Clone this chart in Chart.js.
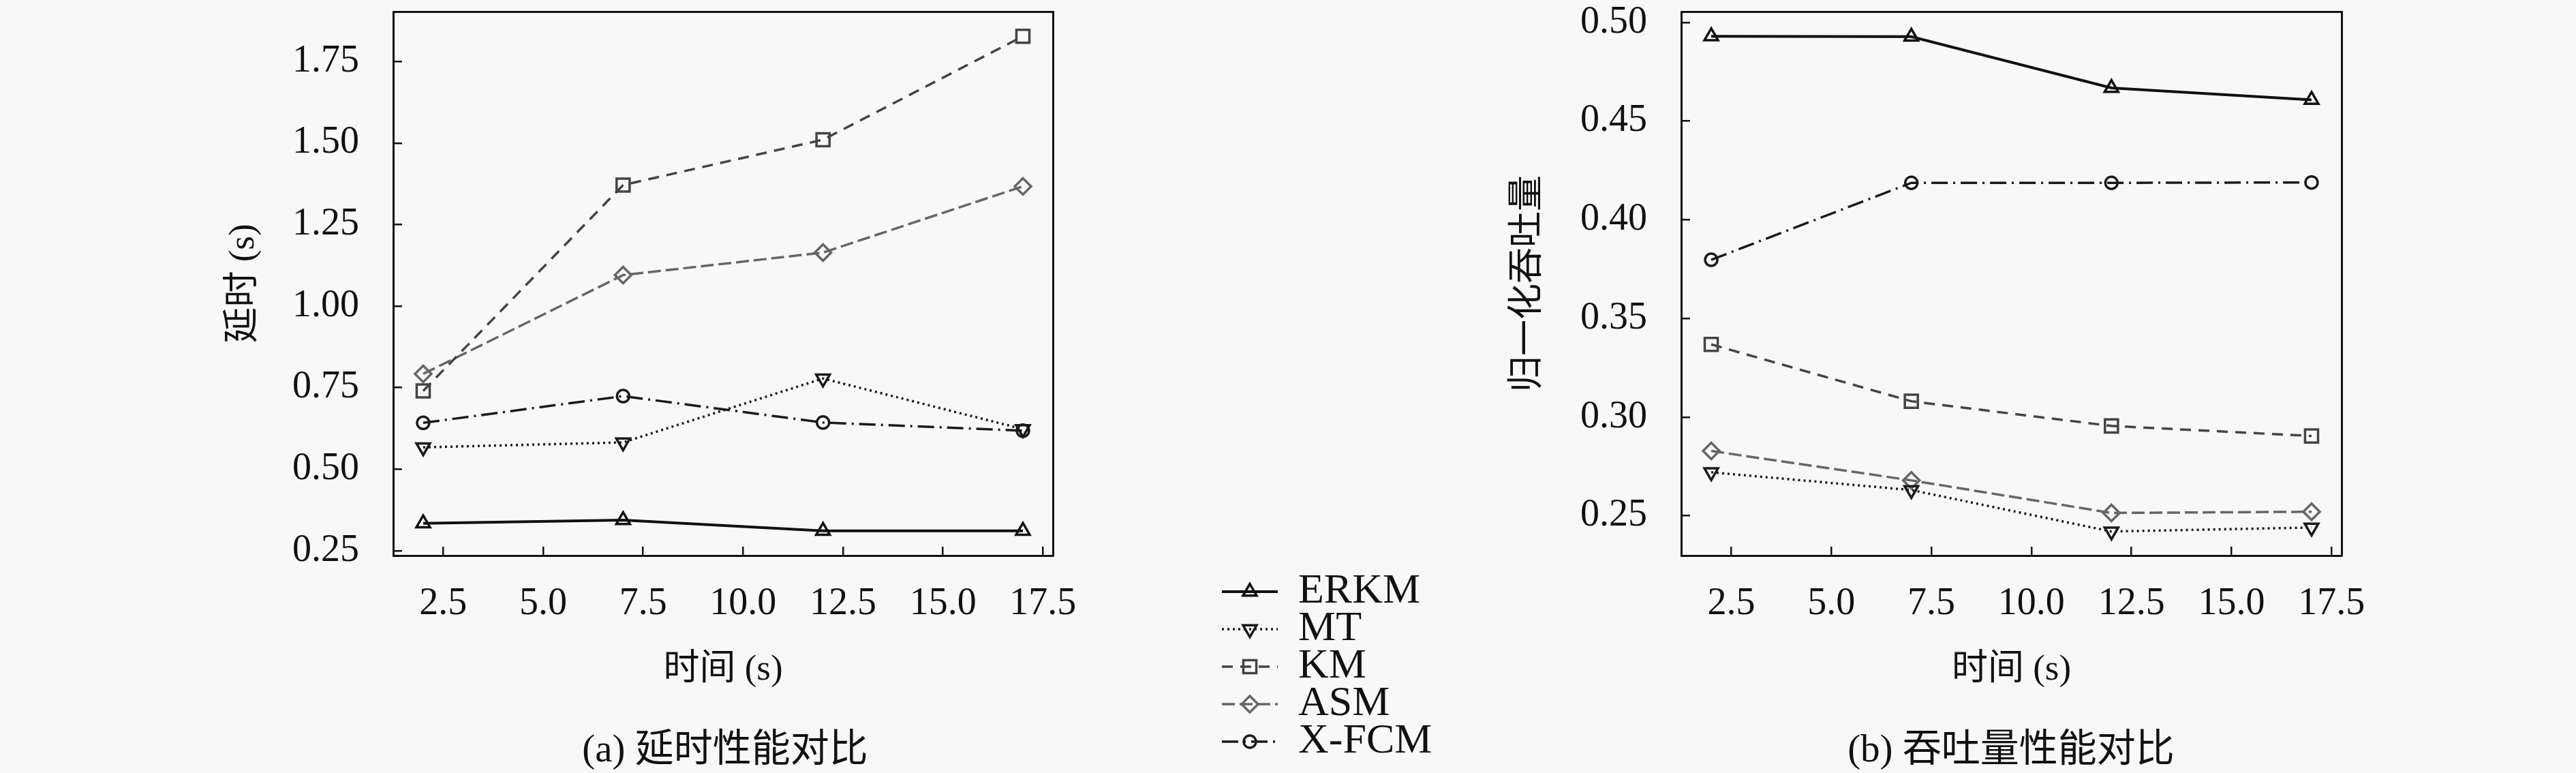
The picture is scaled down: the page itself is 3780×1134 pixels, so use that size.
<!DOCTYPE html>
<html>
<head>
<meta charset="utf-8">
<script src="https://cdn.jsdelivr.net/npm/chart.js@4.4.1/dist/chart.umd.min.js"></script>
<style>
  html, body { margin: 0; padding: 0; background: #f8f8f8; }
  #page { position: relative; width: 3780px; height: 1134px; overflow: hidden; }
  .box { position: absolute; top: 0; height: 1134px; }
  .cap { position: absolute; font: 57px 'Liberation Serif', 'Noto Sans CJK SC'; color: #111;
         white-space: nowrap; transform: translate(-50%, -50%); }
</style>
</head>
<body>
<div id="page">
  <div class="box" style="left:0;width:2150px"><canvas id="left" width="2150" height="1134"></canvas></div>
  <div class="box" style="left:2150px;width:1630px"><canvas id="right" width="1630" height="1134"></canvas></div>
  <div class="cap" style="left:1064px;top:1092px">(a) 延时性能对比</div>
  <div class="cap" style="left:2951px;top:1092px">(b) 吞吐量性能对比</div>
</div>
<script>
/* x values (time, s) */
const times = [2, 7, 12, 17];
const names = ["ERKM", "MT", "KM", "ASM", "X-FCM"];

/* (a) latency, s */
const latERKM = [0.334, 0.344, 0.311, 0.311];
const latMT   = [0.567, 0.582, 0.778, 0.623];
const latKM   = [0.740, 1.371, 1.510, 1.827];
const latASM  = [0.792, 1.095, 1.164, 1.367];
const latXFCM = [0.642, 0.724, 0.643, 0.618];

/* (b) normalised throughput */
const thrERKM = [0.4930, 0.4928, 0.4668, 0.4608];
const thrMT   = [0.2720, 0.2630, 0.2420, 0.2440];
const thrKM   = [0.3368, 0.3080, 0.2955, 0.2904];
const thrASM  = [0.2828, 0.2679, 0.2514, 0.2520];
const thrXFCM = [0.3797, 0.4187, 0.4187, 0.4189];

/* line / marker look per series */
const looks = [
  { color: "#111",    width: 4,   dash: [],             point: "triangle", rot: 0,   r: 11.5 },
  { color: "#1a1a1a", width: 3.5, dash: [3, 5],         point: "triangle", rot: 180, r: 11.5 },
  { color: "#444",    width: 3.5, dash: [16, 11],       point: "rect",     rot: 0,   r: 13.5 },
  { color: "#666",    width: 3.5, dash: [19, 7],        point: "rectRot",  rot: 0,   r: 12 },
  { color: "#1a1a1a", width: 3.5, dash: [24, 8, 3, 8],  point: "circle",   rot: 0,   r: 9 }
];

Chart.defaults.font.family = "'Liberation Serif', 'Noto Sans CJK SC'";
Chart.defaults.color = "#111";

function makeDatasets(series) {
  return series.map((vals, i) => {
    const lk = looks[i];
    return {
      label: names[i],
      data: times.map((t, j) => ({ x: t, y: vals[j] })),
      xAxisID: "x", yAxisID: "y",
      borderColor: lk.color, borderWidth: lk.width, borderDash: lk.dash,
      tension: 0, fill: false,
      pointStyle: lk.point, pointRotation: lk.rot, pointRadius: lk.r, pointHoverRadius: lk.r,
      pointBorderWidth: 3.5, pointBorderColor: lk.color,
      pointBackgroundColor: "rgba(0,0,0,0)"
    };
  });
}

/* legend with line + marker samples, drawn between the panels */
const LEG = { x0: 1793, x1: 1875, text: 1905, top: 868, row: 55 };
const sideLegend = {
  id: "sideLegend",
  afterDraw(chart) {
    const ctx = chart.ctx;
    chart.data.datasets.forEach((ds, i) => {
      const y = LEG.top + i * LEG.row;
      ctx.save();
      ctx.strokeStyle = ds.borderColor;
      ctx.lineWidth = ds.borderWidth;
      ctx.setLineDash(ds.borderDash);
      ctx.beginPath();
      ctx.moveTo(LEG.x0, y);
      ctx.lineTo(LEG.x1, y);
      ctx.stroke();
      ctx.setLineDash([]);
      ctx.strokeStyle = ds.pointBorderColor;
      ctx.fillStyle = ds.pointBackgroundColor;
      ctx.lineWidth = ds.pointBorderWidth;
      Chart.helpers.drawPoint(ctx, {
        pointStyle: ds.pointStyle, rotation: ds.pointRotation,
        radius: ds.pointRadius, borderWidth: ds.pointBorderWidth
      }, (LEG.x0 + LEG.x1) / 2, y);
      ctx.fillStyle = "#111";
      ctx.font = "62px 'Liberation Serif'";
      ctx.textAlign = "left";
      ctx.textBaseline = "middle";
      ctx.fillText(ds.label, LEG.text, y);
      ctx.restore();
    });
  }
};

function frameAxis(pos, axis) {
  return {
    type: "linear", axis: axis, position: pos, display: true,
    ticks: { display: false },
    grid: { display: true, drawOnChartArea: false, drawTicks: false },
    border: { display: true, color: "#111", width: 3 },
    afterFit: s => { if (axis === "x") s.height = 0; else s.width = 0; }
  };
}

function makeChart(id, series, o) {
  return new Chart(document.getElementById(id), {
    type: "line",
    data: { datasets: makeDatasets(series) },
    plugins: o.plugins || [],
    options: {
      responsive: false,
      animation: false,
      layout: { padding: { left: 0, top: o.top, right: o.right, bottom: 119 } },
      plugins: { legend: { display: false }, tooltip: { enabled: false } },
      scales: {
        x: {
          type: "linear", position: "bottom", min: 1.25, max: 17.75,
          ticks: { stepSize: 2.5, includeBounds: false, padding: 51, maxRotation: 0, autoSkip: false,
                   font: { size: 56 }, color: "#111", callback: v => v.toFixed(1) },
          grid: { drawOnChartArea: false, tickLength: -13, color: "#111", lineWidth: 2.5 },
          border: { color: "#111", width: 3 },
          title: { display: true, text: "时间 (s)", font: { size: 53 }, color: "#111",
                   padding: { top: 0, bottom: 0 } },
          afterFit: s => { s.height = 200; s.paddingLeft = 0; s.paddingRight = 0; }
        },
        y: {
          type: "linear", position: "left", min: o.min, max: o.max,
          ticks: { stepSize: o.step, includeBounds: false, padding: 63,
                   font: { size: 56 }, color: "#111", callback: v => v.toFixed(2) },
          grid: { drawOnChartArea: false, tickLength: -13, color: "#111", lineWidth: 2.5 },
          border: { color: "#111", width: 3 },
          title: { display: true, text: o.ytitle, font: { size: 53 }, color: "#111",
                   padding: { top: o.titlePad, bottom: 0 } },
          afterFit: s => { s.width = o.yWidth; s.paddingTop = 0; s.paddingBottom = 0; }
        },
        x2: frameAxis("top", "x"),
        y2: frameAxis("right", "y")
      }
    }
  });
}

makeChart("left", [latERKM, latMT, latKM, latASM, latXFCM], {
  min: 0.2352, max: 1.9028, step: 0.25, ytitle: "延时 (s)",
  yWidth: 577, titlePad: 326, top: 9, right: 605, plugins: [sideLegend]
});

makeChart("right", [thrERKM, thrMT, thrKM, thrASM, thrXFCM], {
  min: 0.2298, max: 0.5055, step: 0.05, ytitle: "归一化吞吐量",
  yWidth: 317, titlePad: 61, top: 8, right: 344
});
</script>
</body>
</html>
